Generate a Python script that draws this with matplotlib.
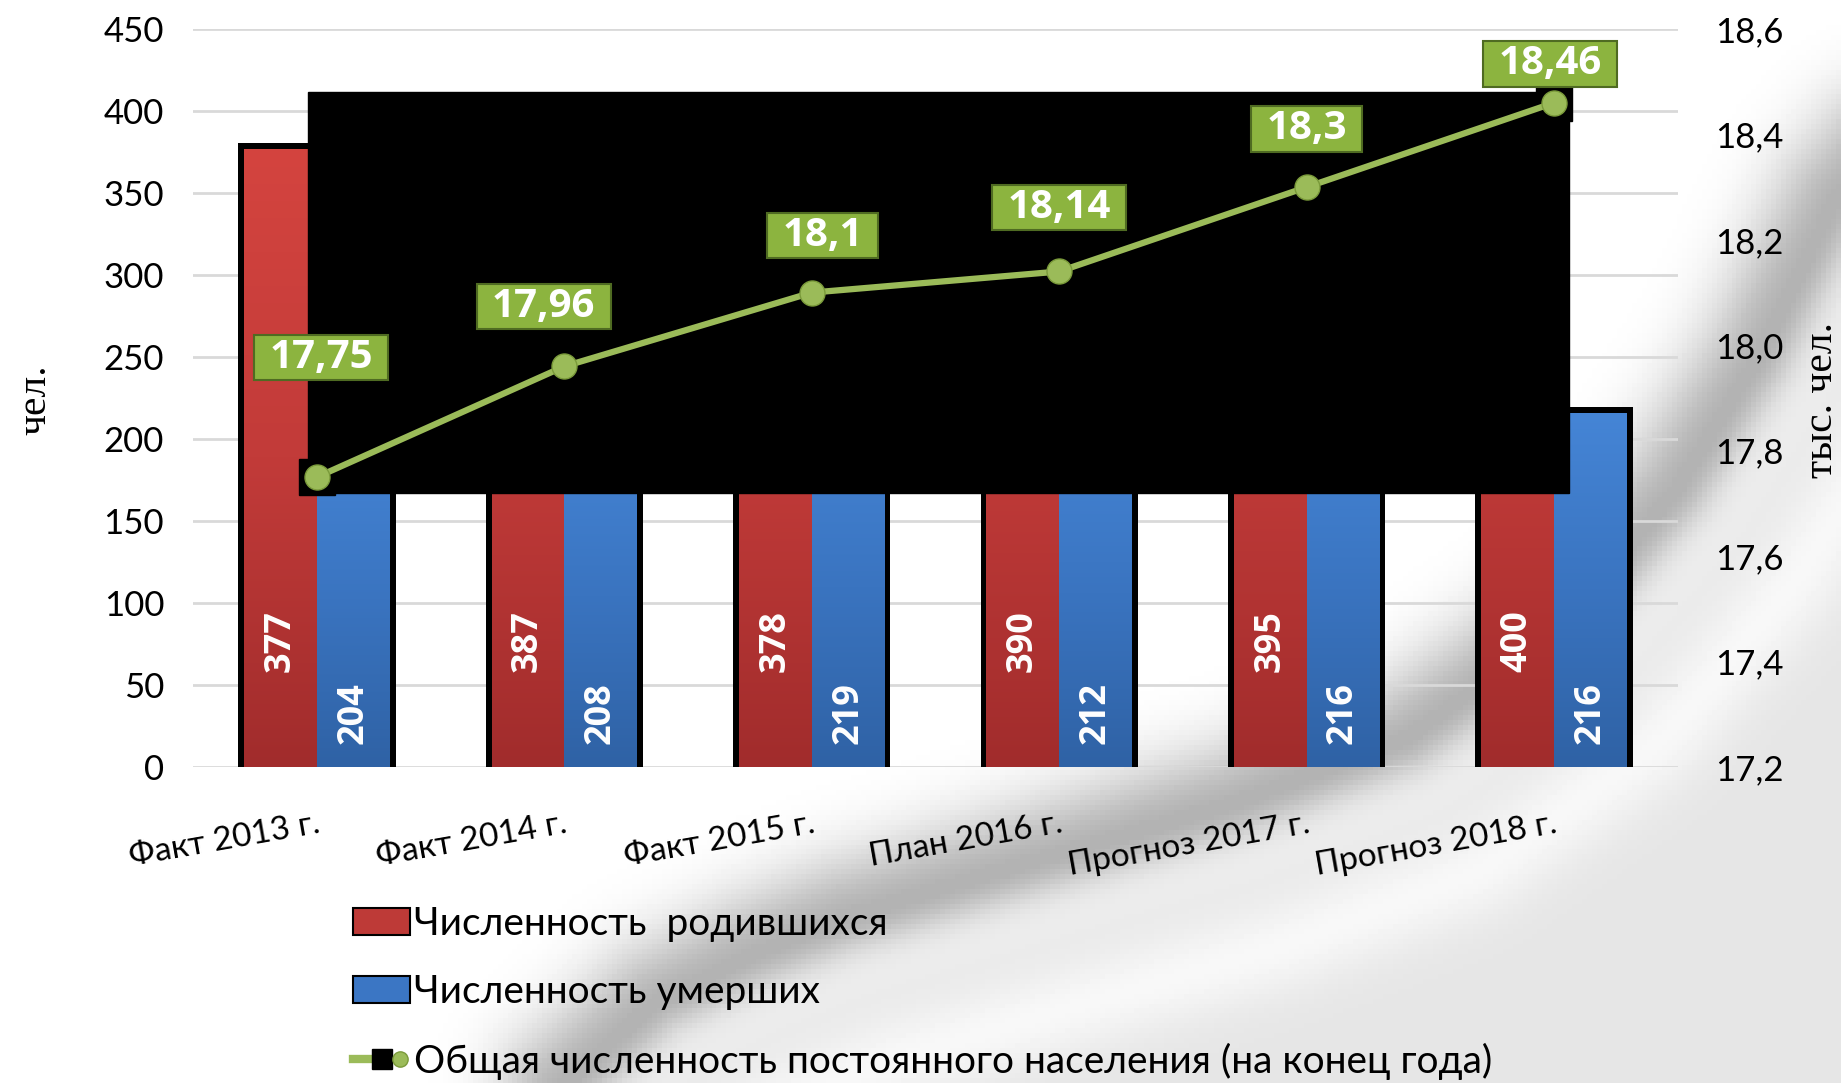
import numpy as np
import matplotlib.pyplot as plt
from matplotlib.patches import Rectangle, Patch
from matplotlib.path import Path
from matplotlib.lines import Line2D
from matplotlib.legend_handler import HandlerTuple
from matplotlib.colors import LinearSegmentedColormap
from matplotlib.ticker import MultipleLocator, FuncFormatter

# данные
categories = ['Факт 2013 г.', 'Факт 2014 г.', 'Факт 2015 г.',
              'План 2016 г.', 'Прогноз 2017 г.', 'Прогноз 2018 г.']
born = [377, 387, 378, 390, 395, 400]
died = [204, 208, 219, 212, 216, 216]
population = [17.75, 17.96, 18.1, 18.14, 18.3, 18.46]
population_labels = ['17,75', '17,96', '18,1', '18,14', '18,3', '18,46']

label_born = 'Численность  родившихся'
label_died = 'Численность умерших'
label_pop = 'Общая численность постоянного населения (на конец года)'

RED = '#BE3A37'
BLUE = '#3B76C4'
GREEN = '#9BBB59'

plt.rcParams['font.family'] = ['Lato', 'DejaVu Sans']

W, H = 1841, 1083
fig = plt.figure(figsize=(W / 100, H / 100), dpi=100)

# фон с серой "волной" (координаты в пикселях, y вниз)
bg = fig.add_axes([0, 0, 1, 1], zorder=-10)
gx, gy = np.meshgrid(np.linspace(0, W, 370), np.linspace(0, H, 218))
cx = np.array([563, 657, 751, 845, 1010, 1233, 1409, 1561, 1679, 1761, 1841, 1880])
cy = np.array([1090, 1005, 959, 921, 872, 807, 741, 632, 491, 360, 196, 150])
t = np.linspace(0, len(cx) - 1, 500)
px = np.interp(t, np.arange(len(cx)), cx)
py = np.interp(t, np.arange(len(cy)), cy)
dist = np.sqrt((gx[..., None] - px) ** 2 + (gy[..., None] - py) ** 2).min(axis=-1)
below = gy > np.interp(gx, cx, cy, left=1e9, right=-1e9)
shade_below = (0.30 * np.exp(-(dist / 35) ** 2) + 0.10 * (1 - np.exp(-(dist / 60) ** 2))
               - 0.07 * np.exp(-((dist - 150) / 45) ** 2))
shade_above = 0.30 * np.exp(-(dist / 65) ** 2)
img = np.clip(1 - np.where(below, shade_below, shade_above), 0, 1)
bg.imshow(img, cmap='gray', vmin=0, vmax=1, origin='upper', aspect='auto',
          extent=[0, W, H, 0])
bg.set_xlim(0, W)
bg.set_ylim(H, 0)
bg.axis('off')

ax = fig.add_axes([0.105, 0.2918, 0.8063, 0.6814])
ax.patch.set_alpha(0)
x = np.arange(len(categories))
w = 0.294
dd = 0.024

# черная подложка под столбцами
ax.bar(x - w / 2 - dd / 2, np.array(born) + 3.5, width=w + dd, color='black', zorder=2)
ax.bar(x + w / 2 + dd / 2, np.array(died) + 3.5, width=w + dd, color='black', zorder=2)
bars_r = ax.bar(x - w / 2, born, width=w, color=RED, zorder=3)
bars_b = ax.bar(x + w / 2, died, width=w, color=BLUE, zorder=3)

# вертикальный градиент в столбцах
red_cmap = LinearSegmentedColormap.from_list('r', ['#A12C2C', '#C23B39', '#D4443F'])
blue_cmap = LinearSegmentedColormap.from_list('b', ['#2F62A5', '#3A74C0', '#4585D6'])
grad = np.linspace(0, 1, 256).reshape(-1, 1)
for bars, cmap in ((bars_r, red_cmap), (bars_b, blue_cmap)):
    for b in bars:
        x0, h = b.get_x(), b.get_height()
        im = ax.imshow(grad, cmap=cmap, origin='lower', aspect='auto',
                       extent=[x0, x0 + b.get_width(), 0, h], zorder=3.5)
        im.set_clip_path(b)

for i in range(len(categories)):
    ax.text(x[i] - w / 2, 77, str(born[i]), rotation=90, ha='center', va='center',
            color='white', fontsize=26, fontweight='bold', family='Open Sans', zorder=4)
    ax.text(x[i] + w / 2, 33, str(died[i]), rotation=90, ha='center', va='center',
            color='white', fontsize=26, fontweight='bold', family='Open Sans', zorder=4)

# черный прямоугольник поверх области построения
ax.add_patch(Rectangle((308 / W, 1 - 493 / H), (1569 - 308) / W, (493 - 92) / H,
                       transform=fig.transFigure, color='black', zorder=5))

ax.set_xlim(-0.5, 5.5)
ax.set_ylim(0, 450)
ax.yaxis.set_major_locator(MultipleLocator(50))
ax.grid(True, axis='y', color='#D9D9D9', lw=2)
ax.set_axisbelow(True)
for s in ax.spines.values():
    s.set_visible(False)
ax.tick_params(axis='y', length=0, pad=21, labelsize=25)
ax.set_xticks(x)
ax.set_xticklabels(categories, rotation=10, ha='right', rotation_mode='anchor', fontsize=24)
ax.tick_params(axis='x', length=0, pad=30)

ax2 = ax.twinx()
ax2.patch.set_alpha(0)
ax2.set_ylim(17.2, 18.6)
ax2.yaxis.set_major_locator(MultipleLocator(0.2))
ax2.yaxis.set_major_formatter(FuncFormatter(lambda val, pos: f'{val:.1f}'.replace('.', ',')))
ax2.tick_params(axis='y', length=0, pad=27, labelsize=25)
for s in ax2.spines.values():
    s.set_visible(False)

ax2.plot(x, population, ls='none', marker='s', ms=26, color='black', zorder=2)
ax2.plot(x, population, color=GREEN, lw=4.5, marker='o', ms=18, mfc=GREEN,
         mec='#7A9A3A', mew=1, zorder=3)


def label_box(x0, y0, width, height, mutation_size):
    # прямоугольник с разными отступами по горизонтали и вертикали
    hx = 0.38 * mutation_size
    hy = 0.08 * mutation_size
    return Path([(x0 - hx, y0 - hy), (x0 + width + hx, y0 - hy),
                 (x0 + width + hx, y0 + height + hy), (x0 - hx, y0 + height + hy),
                 (x0 - hx, y0 - hy)], closed=True)


label_offsets = [(3, 86), (-15, 43), (8, 41), (0, 46), (0, 42), (-3, 28)]
for i, txt in enumerate(population_labels):
    ax2.annotate(txt, (x[i], population[i]), xytext=label_offsets[i],
                 textcoords='offset points', ha='center', va='center',
                 color='white', fontsize=29, fontweight='bold', family='Open Sans',
                 zorder=6,
                 bbox=dict(boxstyle=label_box, fc='#8CB43F', ec='#4F6B22', lw=1.5))

fig.text(35 / W, 1 - 400 / H, 'чел.', rotation=90, ha='center', va='center',
         fontsize=30, family='Liberation Serif')
fig.text(1822 / W, 1 - 400 / H, 'тыс. чел.', rotation=90, ha='center', va='center',
         fontsize=30, family='Liberation Serif')

h_born = Patch(facecolor=RED, edgecolor='black', lw=1.5)
h_died = Patch(facecolor=BLUE, edgecolor='black', lw=1.5)
h_pop = (Line2D([], [], color=GREEN, lw=6),
         Line2D([], [], marker='s', ms=14, color='black', ls='none'),
         Line2D([], [], marker='o', ms=11, mfc=GREEN, mec='#7A9A3A', ls='none'))
fig.legend([h_born, h_died, h_pop], [label_born, label_died, label_pop],
           handler_map={tuple: HandlerTuple(ndivide=None)},
           loc='center left', bbox_to_anchor=(334 / W, 1 - 993 / H),
           frameon=False, fontsize=28, borderpad=0, labelspacing=0.83,
           handlelength=1.45, handleheight=0.7, handletextpad=0.12)

fig.savefig('out.png', dpi=100)
